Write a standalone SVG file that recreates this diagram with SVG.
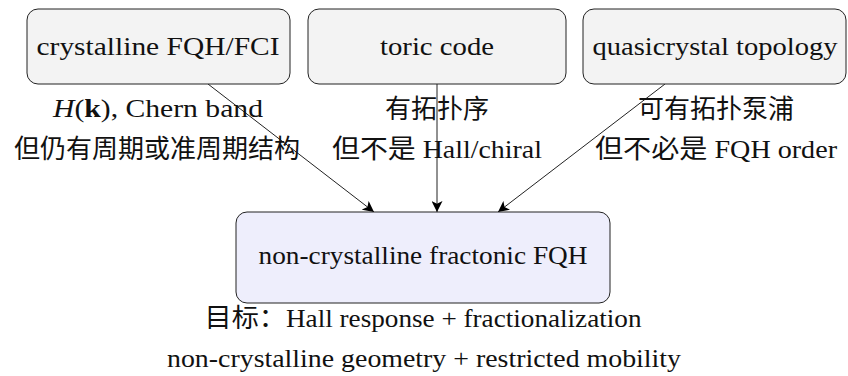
<svg xmlns="http://www.w3.org/2000/svg" width="848" height="376" viewBox="0 0 848 376">
  <defs>
    <marker id="arrow" viewBox="0 0 10 10" refX="10" refY="5" markerWidth="11" markerHeight="11" markerUnits="userSpaceOnUse" orient="auto">
      <path d="M0,0 L10,5 L0,10 L2.5,5 Z" fill="#000"/>
    </marker>
  </defs>
  <style>
    .box { fill: #f3f3f3; stroke: #222; stroke-width: 1; }
    .goal { fill: #eeeefc; stroke: #222; stroke-width: 1; }
    .t { font-family: "Liberation Serif", serif; font-size: 26px; fill: #111; text-anchor: middle; }
    .zh { font-family: "Liberation Serif", "Noto Sans CJK SC", sans-serif; }
    .edge { stroke: #222; stroke-width: 1; fill: none; marker-end: url(#arrow); }
  </style>
  <rect width="848" height="376" fill="#fff"/>

  <g id="edges">
    <line class="edge" x1="208" y1="84" x2="374" y2="212"/>
    <line class="edge" x1="437" y1="84" x2="437" y2="212"/>
    <line class="edge" x1="665" y1="84" x2="498" y2="212"/>
  </g>

  <g id="crystalline">
    <rect class="box" x="27" y="9" width="263" height="75" rx="11"/>
    <text class="t" x="158" y="55" textLength="243" lengthAdjust="spacingAndGlyphs">crystalline FQH/FCI</text>
    <text class="t" x="158" y="117" textLength="210" lengthAdjust="spacingAndGlyphs"><tspan font-style="italic">H</tspan>(<tspan font-weight="bold">k</tspan>), Chern band</text>
    <text class="t zh" x="157" y="158">但仍有周期或准周期结构</text>
  </g>

  <g id="toric">
    <rect class="box" x="308" y="9" width="258" height="75" rx="11"/>
    <text class="t" x="437" y="55" textLength="114" lengthAdjust="spacingAndGlyphs">toric code</text>
    <text class="t zh" x="437" y="118">有拓扑序</text>
    <text class="t" x="437" y="158" textLength="210" lengthAdjust="spacingAndGlyphs"><tspan class="zh">但不是 </tspan>Hall/chiral</text>
  </g>

  <g id="quasicrystal">
    <rect class="box" x="583" y="9" width="263" height="75" rx="11"/>
    <text class="t" x="715" y="55" textLength="245" lengthAdjust="spacingAndGlyphs">quasicrystal topology</text>
    <text class="t zh" x="716" y="118">可有拓扑泵浦</text>
    <text class="t" x="716" y="158" textLength="242" lengthAdjust="spacingAndGlyphs"><tspan class="zh">但不必是 </tspan>FQH order</text>
  </g>

  <g id="target">
    <rect class="goal" x="236" y="212" width="374" height="91" rx="11"/>
    <text class="t" x="423" y="264" textLength="329" lengthAdjust="spacingAndGlyphs">non-crystalline fractonic FQH</text>
    <text class="t" x="423" y="327" textLength="437" lengthAdjust="spacingAndGlyphs"><tspan class="zh">目标：</tspan>Hall response + fractionalization</text>
    <text class="t" x="424" y="367" textLength="514" lengthAdjust="spacingAndGlyphs">non-crystalline geometry + restricted mobility</text>
  </g>
</svg>
